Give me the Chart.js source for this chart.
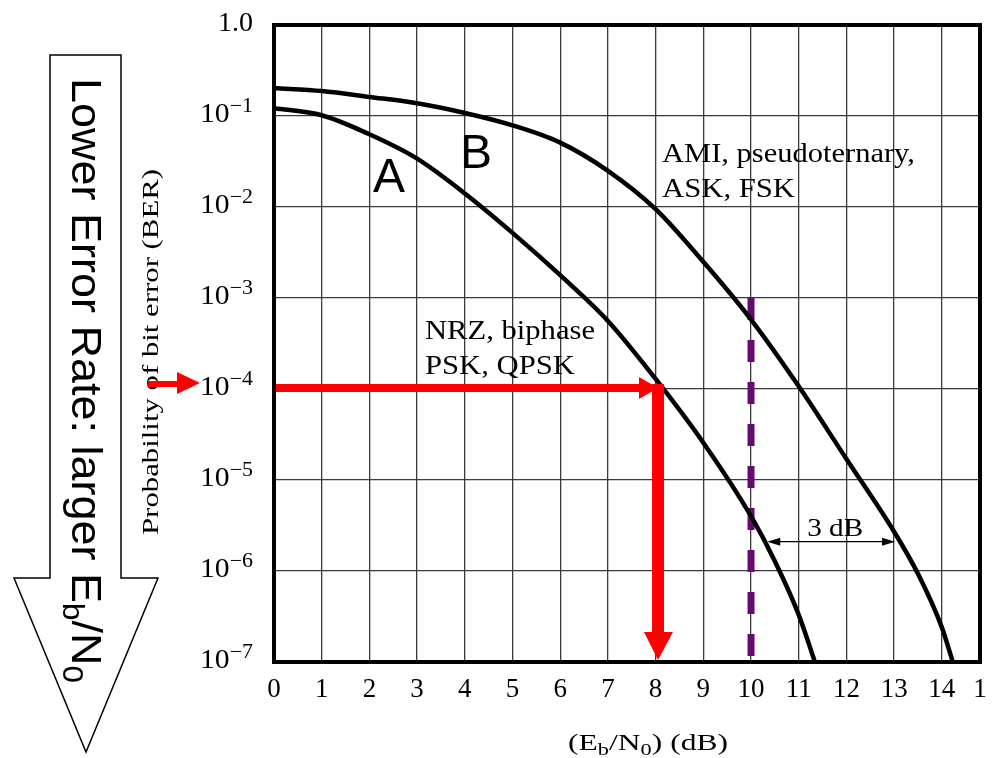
<!DOCTYPE html>
<html>
<head>
<meta charset="utf-8">
<script src="https://cdn.jsdelivr.net/npm/chart.js@4.4.0/dist/chart.umd.min.js"></script>
<style>
  html, body { margin: 0; background: #fff; }
  #wrap { width: 994px; height: 758px; }
</style>
</head>
<body>
<div id="wrap"><canvas id="ber" width="994" height="758"></canvas></div>
<script>
  // curve A: NRZ, biphase, PSK, QPSK
  const ebNoA = [0, 1, 2, 3, 4, 5, 6, 7, 8, 9, 10, 10.5, 11, 11.34];
  const berA = [0.122, 0.102, 0.063, 0.034, 0.0141, 5.2e-3, 1.78e-3, 5.6e-4, 1.29e-4, 2.57e-5, 4.0e-6, 1.28e-6, 3.3e-7, 1e-7];
  // curve B: AMI, pseudoternary, ASK, FSK
  const ebNoB = [0, 1, 2, 3, 4, 5, 6, 7, 8, 9, 10, 11, 12, 13, 13.5, 14, 14.23];
  const berB = [0.203, 0.188, 0.162, 0.138, 0.108, 0.079, 0.051, 0.025, 0.0095, 2.5e-3, 5.8e-4, 1.07e-4, 1.7e-5, 2.7e-6, 9.3e-7, 2.4e-7, 1e-7];

  const xTickValues = [0, 1, 2, 3, 4, 5, 6, 7, 8, 9, 10, 11, 12, 13, 14, 14.8];
  const xTickLabels = ['0', '1', '2', '3', '4', '5', '6', '7', '8', '9', '10', '11', '12', '13', '14', '1'];
  const yTickExps = [0, -1, -2, -3, -4, -5, -6, -7];

  // markers
  const refEbNo = 10, refBerTop = 1e-3, refBerBottom = 1e-7;
  const targetBer = 1e-4, targetEbNo = 8.05;
  const gapFrom = 10.34, gapTo = 13.02, gapBer = 2.1e-6;

  const serif = '"Liberation Serif", "Times New Roman", serif';
  const sans = '"Liberation Sans", Arial, sans-serif';

  // draws a list of parts [text, size, dy] starting at 0,0, optionally squeezed to width
  function rich(ctx, parts, family, width, align) {
    let total = 0;
    parts.forEach(p => { ctx.font = p[1] + 'px ' + family; total += ctx.measureText(p[0]).width; });
    const sx = width ? width / total : 1;
    let start = 0;
    if (align === 'right') start = -total * sx;
    if (align === 'center') start = -total * sx / 2;
    ctx.save();
    ctx.translate(start, 0);
    ctx.scale(sx, 1);
    ctx.textAlign = 'left';
    ctx.textBaseline = 'alphabetic';
    let cx = 0;
    parts.forEach(p => {
      ctx.font = p[1] + 'px ' + family;
      ctx.fillText(p[0], cx, p[2] || 0);
      cx += ctx.measureText(p[0]).width;
    });
    ctx.restore();
  }

  function tri(ctx, pts) {
    ctx.beginPath();
    ctx.moveTo(pts[0], pts[1]);
    ctx.lineTo(pts[2], pts[3]);
    ctx.lineTo(pts[4], pts[5]);
    ctx.closePath();
    ctx.fill();
  }

  const decor = {
    id: 'decor',
    afterDatasetsDraw(chart) {
      const { ctx, chartArea: a, scales: { x, y } } = chart;
      ctx.save();

      // frame
      ctx.strokeStyle = '#000';
      ctx.lineWidth = 4;
      ctx.strokeRect(a.left, a.top, a.right - a.left, a.bottom - a.top);

      ctx.fillStyle = '#000';
      // y tick labels
      yTickExps.forEach(e => {
        const py = y.getPixelForValue(Math.pow(10, e));
        ctx.save();
        ctx.translate(253, py + 6);
        if (e === 0) rich(ctx, [['1.0', 27]], serif, 35, 'right');
        else rich(ctx, [['10', 27], ['\u2212' + (-e), 20, -10]], serif, 53, 'right');
        ctx.restore();
      });
      // x tick labels
      xTickValues.forEach((v, i) => {
        const px = x.getPixelForValue(v);
        ctx.save();
        ctx.translate(px, 697);
        rich(ctx, [[xTickLabels[i], 27]], serif, 0, 'center');
        ctx.restore();
      });

      // axis titles
      ctx.save();
      ctx.translate(648, 750);
      rich(ctx, [['(E', 24], ['b', 17, 5], ['/N', 24], ['0', 17, 5], [') (dB)', 24]], serif, 160, 'center');
      ctx.restore();

      ctx.save();
      ctx.translate(158, 352);
      ctx.rotate(-Math.PI / 2);
      rich(ctx, [['Probability of bit error (BER)', 23]], serif, 366, 'center');
      ctx.restore();

      // curve labels
      ctx.save(); ctx.translate(373, 192); rich(ctx, [['A', 48]], sans, 0, 'left'); ctx.restore();
      ctx.save(); ctx.translate(460, 168); rich(ctx, [['B', 48]], sans, 0, 'left'); ctx.restore();
      ctx.save(); ctx.translate(662, 162); rich(ctx, [['AMI, pseudoternary,', 27]], serif, 253, 'left'); ctx.restore();
      ctx.save(); ctx.translate(662, 197); rich(ctx, [['ASK, FSK', 27]], serif, 133, 'left'); ctx.restore();
      ctx.save(); ctx.translate(425, 339); rich(ctx, [['NRZ, biphase', 28]], serif, 170, 'left'); ctx.restore();
      ctx.save(); ctx.translate(425, 374); rich(ctx, [['PSK, QPSK', 28]], serif, 150, 'left'); ctx.restore();

      // 3 dB dimension
      const g1 = x.getPixelForValue(gapFrom), g2 = x.getPixelForValue(gapTo), gy = y.getPixelForValue(gapBer);
      ctx.strokeStyle = '#000';
      ctx.lineWidth = 1.3;
      ctx.beginPath(); ctx.moveTo(g1 + 4, gy); ctx.lineTo(g2 - 4, gy); ctx.stroke();
      tri(ctx, [g1, gy, g1 + 13, gy - 4, g1 + 13, gy + 4]);
      tri(ctx, [g2, gy, g2 - 13, gy - 4, g2 - 13, gy + 4]);
      ctx.save(); ctx.translate((g1 + g2) / 2 + 4, gy - 6); rich(ctx, [['3 dB', 25]], serif, 56, 'center'); ctx.restore();

      // red arrows
      const ty = y.getPixelForValue(targetBer), tx = x.getPixelForValue(targetEbNo);
      ctx.fillStyle = '#ff0000';
      ctx.fillRect(a.left + 2, ty - 5, tx - 18 - a.left - 2, 8);
      tri(ctx, [tx - 19, ty - 12, tx, ty - 1, tx - 19, ty + 10]);
      ctx.fillRect(tx - 6, ty - 5, 12, a.bottom - 30 - (ty - 5));
      tri(ctx, [tx - 14, a.bottom - 30, tx + 15, a.bottom - 30, tx, a.bottom - 2]);
      ctx.fillRect(148, ty - 8, 31, 6);
      tri(ctx, [177, ty - 17, 200, ty - 6, 177, ty + 5]);

      // big arrow at left
      ctx.fillStyle = '#fff';
      ctx.strokeStyle = '#000';
      ctx.lineWidth = 1.5;
      ctx.beginPath();
      ctx.moveTo(50, 55); ctx.lineTo(121, 55); ctx.lineTo(121, 578); ctx.lineTo(158, 578);
      ctx.lineTo(86, 752); ctx.lineTo(14, 578); ctx.lineTo(50, 578); ctx.closePath();
      ctx.fill(); ctx.stroke();
      ctx.fillStyle = '#000';
      ctx.save();
      ctx.translate(72, 78);
      ctx.rotate(Math.PI / 2);
      rich(ctx, [['Lower Error Rate: larger E', 43], ['b', 30, 9], ['/N', 43], ['0', 30, 9]], sans, 605, 'left');
      ctx.restore();

      ctx.restore();
    }
  };

  const pts = (xs, ys) => xs.map((v, i) => ({ x: v, y: ys[i] }));

  new Chart(document.getElementById('ber'), {
    type: 'line',
    data: {
      datasets: [
        {
          label: 'A', data: pts(ebNoA, berA), borderColor: '#000', borderWidth: 4.5,
          pointRadius: 0, cubicInterpolationMode: 'monotone', fill: false, order: 1
        },
        {
          label: 'B', data: pts(ebNoB, berB), borderColor: '#000', borderWidth: 4.5,
          pointRadius: 0, cubicInterpolationMode: 'monotone', fill: false, order: 1
        },
        {
          label: 'ref', data: pts([refEbNo, refEbNo], [refBerTop, refBerBottom]), borderColor: '#660a70',
          borderWidth: 7, borderDash: [22, 20], borderCapStyle: 'butt', pointRadius: 0, fill: false, order: 2
        }
      ]
    },
    options: {
      responsive: false,
      animation: false,
      events: [],
      layout: { autoPadding: false, padding: { left: 274, right: 14, top: 25, bottom: 96 } },
      plugins: { legend: { display: false }, tooltip: { enabled: false } },
      scales: {
        x: {
          type: 'linear', min: 0, max: 14.8,
          afterBuildTicks: s => { s.ticks = xTickValues.map(v => ({ value: v })); },
          afterFit: s => { s.height = 0; },
          ticks: { display: false },
          grid: { color: '#3a3a3a', lineWidth: 1.3, drawTicks: false },
          border: { display: false }
        },
        y: {
          type: 'logarithmic', min: 1e-7, max: 1,
          afterBuildTicks: s => { s.ticks = yTickExps.map(e => ({ value: Math.pow(10, e) })); },
          afterFit: s => { s.width = 0; },
          ticks: { display: false },
          grid: { color: '#3a3a3a', lineWidth: 1.3, drawTicks: false },
          border: { display: false }
        }
      }
    },
    plugins: [decor]
  });
</script>
</body>
</html>
